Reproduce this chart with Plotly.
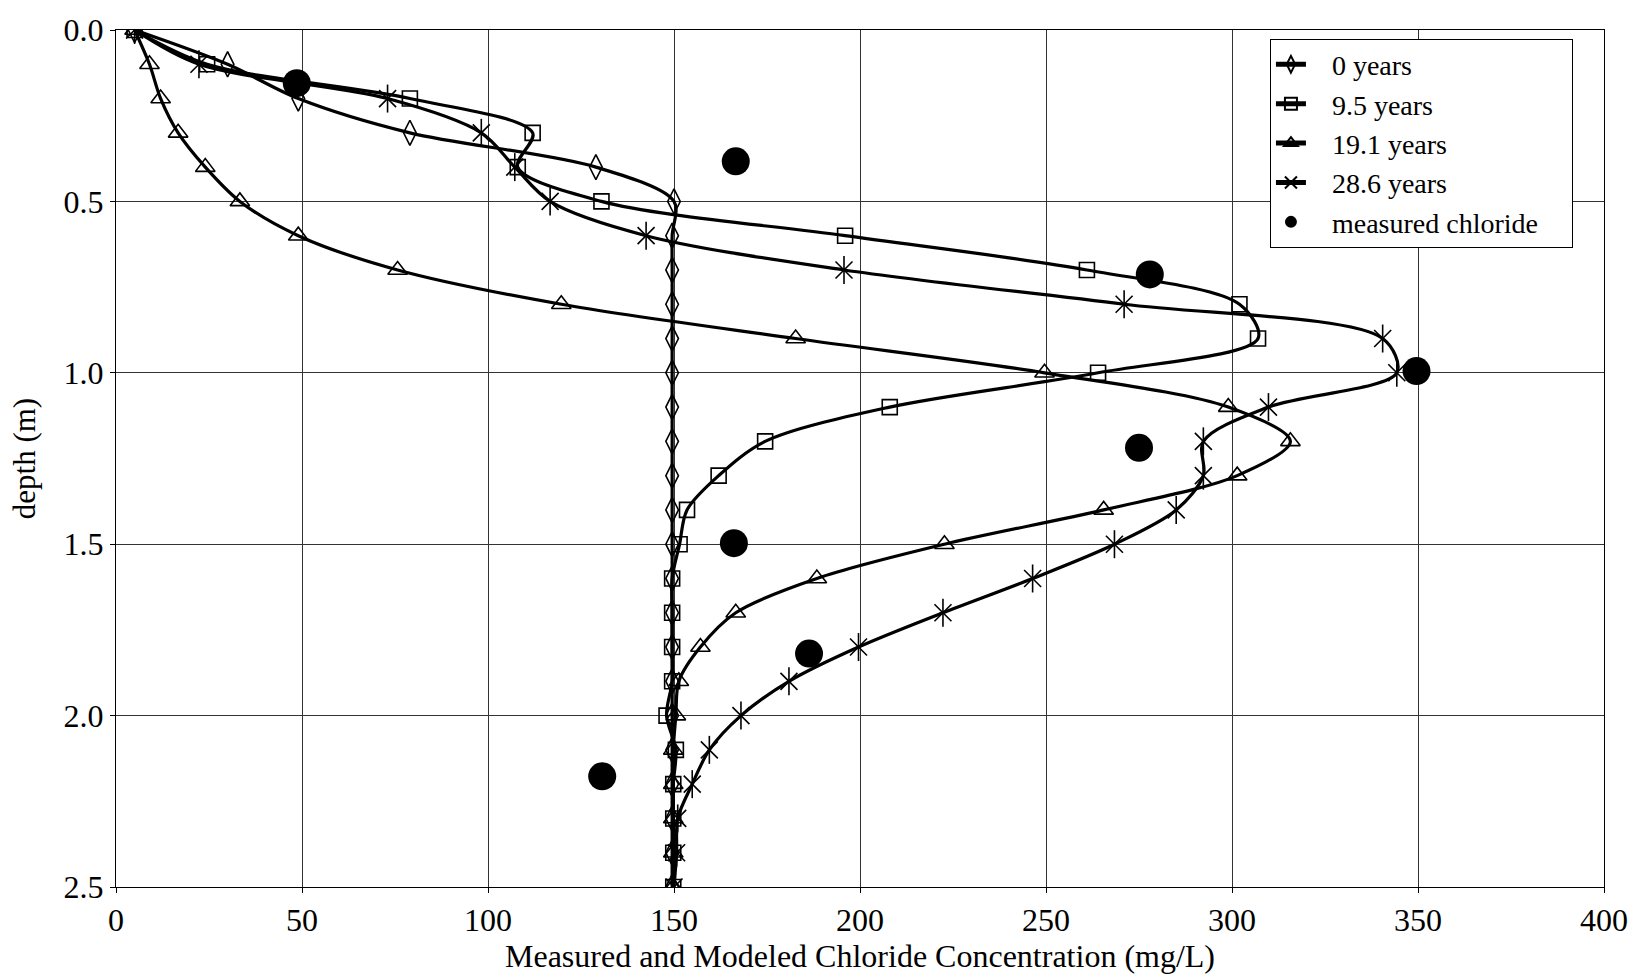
import plotly.graph_objects as go

depth = [0.0, 0.1, 0.2, 0.3, 0.4, 0.5, 0.6, 0.7, 0.8, 0.9, 1.0, 1.1, 1.2, 1.3,
         1.4, 1.5, 1.6, 1.7, 1.8, 1.9, 2.0, 2.1, 2.2, 2.3, 2.4, 2.5]

conc_0yr = [5, 30, 49, 79, 129, 150, 149.5, 149.5, 149.5, 149.5, 149.5, 149.5, 149.5,
            149.5, 149.5, 149.5, 149.5, 149.5, 149.5, 149.5, 149.5, 149.5, 149.5,
            149.5, 149.5, 149.5]
conc_9_5yr = [5, 24.5, 79, 112, 108, 130.5, 196, 261, 302, 307, 264, 208, 174.5,
              162, 153.5, 151.5, 149.5, 149.5, 149.5, 149.5, 148, 150.5, 149.8,
              149.8, 149.8, 149.8]
conc_19_1yr = [5, 9, 12, 16.7, 24, 33.3, 49, 75.7, 119.7, 182.7, 249.6, 299, 315.7,
               301.4, 265.5, 222.7, 188.4, 166.6, 157.1, 151.3, 150.5, 149.8, 149.8,
               149.8, 149.8, 149.8]
conc_28_6yr = [5, 22.3, 73, 98.2, 107.2, 116.7, 142.5, 195.7, 271, 340.5, 344.3,
               309.8, 292.3, 292.3, 285, 268.4, 246.4, 222.3, 199.6, 180.9, 168,
               159.5, 154.9, 151, 150.7, 150]

meas_conc = [48.6, 166.6, 277.9, 349.6, 275, 166.1, 186.3, 130.7]
meas_depth = [0.155, 0.383, 0.713, 0.995, 1.219, 1.497, 1.819, 2.177]

series_names = ["0 years", "9.5 years", "19.1 years", "28.6 years", "measured chloride"]

x_ticks = [0, 50, 100, 150, 200, 250, 300, 350, 400]
y_ticks = [0.0, 0.5, 1.0, 1.5, 2.0, 2.5]

FONT = "Liberation Serif"
PRE = "\u00a0\u00a0\u00a0"
POST = "\u00a0\u00a0\u00a0\u00a0"
fig = go.Figure()

line_style = dict(color="black", width=3.2, shape="spline", smoothing=0.9)

def mk(symbol, size):
    return dict(symbol=symbol, size=size, color="black",
                line=dict(color="black", width=1.6))

fig.add_trace(go.Scatter(
    x=conc_0yr, y=depth, mode="lines+markers", name=PRE + series_names[0] + POST,
    line=line_style, marker=mk("diamond-tall-open", 18)))
fig.add_trace(go.Scatter(
    x=conc_9_5yr, y=depth, mode="lines+markers", name=PRE + series_names[1] + POST,
    line=line_style, marker=mk("square-open", 15)))
fig.add_trace(go.Scatter(
    x=conc_19_1yr, y=depth, mode="lines+markers", name=PRE + series_names[2] + POST,
    line=line_style, marker=mk("triangle-up-open", 17)))
fig.add_trace(go.Scatter(
    x=conc_28_6yr, y=depth, mode="lines+markers", name=PRE + series_names[3] + POST,
    line=line_style, legendgroup="s28", marker=mk("x-thin-open", 17)))
fig.add_trace(go.Scatter(
    x=conc_28_6yr, y=depth, mode="markers", showlegend=False, legendgroup="s28",
    hoverinfo="skip", marker=mk("line-ns-open", 20)))
fig.add_trace(go.Scatter(
    x=meas_conc, y=meas_depth, mode="markers", name=PRE + series_names[4] + POST,
    marker=dict(symbol="circle", size=28, color="black")))

fig.update_layout(
    width=1650, height=979,
    margin=dict(l=116, r=46, t=26, b=86),
    paper_bgcolor="white", plot_bgcolor="white",
    font=dict(family=FONT, color="black", size=30),
    showlegend=True,
    legend=dict(x=0.7755, y=0.99, xanchor="left", yanchor="top",
                bgcolor="white", bordercolor="black", borderwidth=1,
                font=dict(family=FONT, size=28, color="black"),
                tracegroupgap=0, itemsizing="constant"),
)

fig.update_xaxes(
    range=[0, 400], tickvals=x_ticks, ticktext=[str(v) for v in x_ticks],
    showgrid=True, gridcolor="#333333", gridwidth=1,
    showline=True, linecolor="black", linewidth=1, mirror=True,
    ticks="outside", ticklen=5, tickcolor="black",
    tickfont=dict(family=FONT, size=32, color="black"),
    zeroline=False,
    title=dict(text="Measured and Modeled Chloride Concentration (mg/L)",
               font=dict(family=FONT, size=32, color="black"), standoff=6),
)
fig.update_yaxes(
    range=[2.5, 0], tickvals=y_ticks, ticktext=[f"{v:.1f}" for v in y_ticks],
    showgrid=True, gridcolor="#333333", gridwidth=1,
    showline=True, linecolor="black", linewidth=1, mirror=True,
    ticks="outside", ticklen=5, tickcolor="black",
    tickfont=dict(family=FONT, size=32, color="black"),
    zeroline=False,
    title=dict(text="depth (m)", font=dict(family=FONT, size=31, color="black"),
               standoff=18),
)

fig.write_html("out.html")
